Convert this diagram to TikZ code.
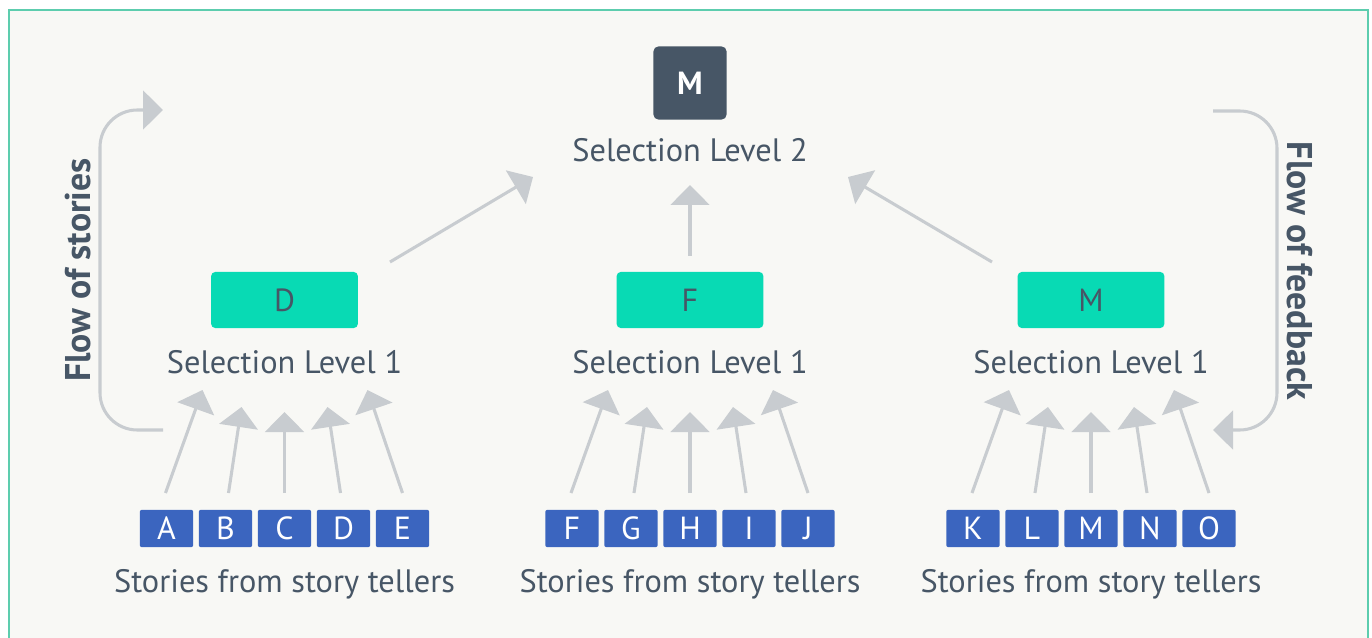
\documentclass[tikz,border=0pt]{standalone}
\usepackage{fontspec}
\setmainfont{PT Sans}
\usetikzlibrary{arrows.meta}
\definecolor{bgc}{HTML}{F8F8F5}
\definecolor{framec}{HTML}{5DCDAE}
\definecolor{txt}{HTML}{475666}
\definecolor{arr}{HTML}{C8CCD0}
\definecolor{greenc}{HTML}{08DAB4}
\definecolor{bluec}{HTML}{3B65BF}
\definecolor{darkc}{HTML}{475666}
\tikzset{
  lbl/.style={text=txt, font=\fontsize{24.3}{28}\selectfont, inner sep=0pt},
  flowlbl/.style={text=txt, font=\bfseries\fontsize{26.8}{30}\selectfont, inner sep=0pt},
  letterbox/.style={fill=bluec, rounded corners=1.5pt, minimum width=40pt, minimum height=28pt, inner sep=0pt, text=white, font=\fontsize{24}{28}\selectfont},
  selbox/.style={fill=greenc, rounded corners=3pt, minimum width=110pt, minimum height=42pt, inner sep=0pt, text=txt, font=\fontsize{24}{28}\selectfont},
  topbox/.style={fill=darkc, rounded corners=4pt, minimum width=55pt, minimum height=55pt, inner sep=0pt, text=white, font=\bfseries\fontsize{24}{28}\selectfont},
  arrowline/.style={draw=arr, line width=2.3pt, -{Triangle[length=15pt, width=29pt]}},
  flowline/.style={draw=arr, line width=2.3pt, rounded corners=28pt, -{Triangle[length=15pt, width=29pt]}}
}
\begin{document}
\begin{tikzpicture}[x=0.75pt, y=-0.75pt]
\useasboundingbox (0,0) rectangle (1372,638);
\fill[white] (0,0) rectangle (1372,638);
\draw[framec, line width=1.3pt, fill=bgc] (9,10) rectangle (1368,680);

% top
\node[topbox] (top) at (690,83) {M};
\node[lbl] (toplbl) at (690,150) {Selection Level 2};

% groups
\foreach \g/\cx/\sel/\la/\lb/\lc/\ld/\le in {L/284.5/D/A/B/C/D/E, C/690/F/F/G/H/I/J, R/1091/M/K/L/M/N/O}{
  \node[selbox] (sel\g) at (\cx,300) {\sel};
  \node[lbl] (sellbl\g) at (\cx,362) {Selection Level 1};
  \node[letterbox] (b\g1) at (\cx-118,528.5) {\la};
  \node[letterbox] (b\g2) at (\cx-59,528.5) {\lb};
  \node[letterbox] (b\g3) at (\cx,528.5) {\lc};
  \node[letterbox] (b\g4) at (\cx+59,528.5) {\ld};
  \node[letterbox] (b\g5) at (\cx+118,528.5) {\le};
  \node[lbl] (stories\g) at (\cx,584) {Stories from story tellers};
  \coordinate (s\g1) at (\cx-119,493);
  \coordinate (s\g2) at (\cx-56,493);
  \coordinate (s\g3) at (\cx,493);
  \coordinate (s\g4) at (\cx+56,493);
  \coordinate (s\g5) at (\cx+118,493);
  \coordinate (t\g1) at (\cx-82,390);
  \coordinate (t\g2) at (\cx-43,407);
  \coordinate (t\g3) at (\cx,412);
  \coordinate (t\g4) at (\cx+43,407);
  \coordinate (t\g5) at (\cx+83,390);
  \foreach \i in {1,...,5}{
    \draw[arrowline] (s\g\i) -- (t\g\i);
  }
}

% level 2 arrows
\coordinate (aL) at (390,262);
\coordinate (aLt) at (533,177);
\coordinate (aC) at (690,256);
\coordinate (aCt) at (690,185);
\coordinate (aR) at (992,262);
\coordinate (aRt) at (848,177);
\draw[arrowline] (aL) -- (aLt);
\draw[arrowline] (aC) -- (aCt);
\draw[arrowline] (aR) -- (aRt);

% flow arrows
\coordinate (fs1) at (163,430);
\coordinate (fs2) at (163,110);
\draw[flowline] (fs1) -| (100,270) |- (fs2);
\node[flowlbl, rotate=90] (flowstories) at (78,270) {Flow of stories};

\coordinate (ff1) at (1213,111);
\coordinate (ff2) at (1213,430);
\draw[flowline] (ff1) -| (1277,270) |- (ff2);
\node[flowlbl, rotate=-90] (flowfeedback) at (1300,271) {Flow of feedback};
\end{tikzpicture}
\end{document}
